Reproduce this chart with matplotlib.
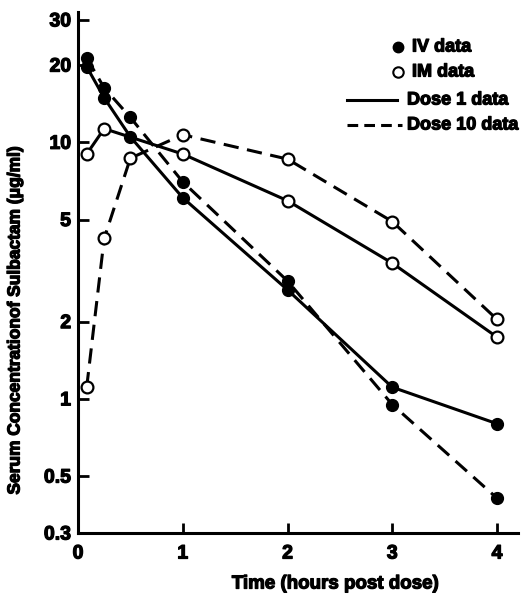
import matplotlib
matplotlib.use("Agg")
import matplotlib.pyplot as plt
import matplotlib.patheffects as pe
from matplotlib.lines import Line2D
from matplotlib.ticker import FixedLocator, FixedFormatter, NullLocator

plt.rcParams["font.family"] = ["Liberation Sans", "DejaVu Sans"]
plt.rcParams["font.weight"] = "bold"

# time points (hours post dose)
times = [0.083, 0.25, 0.5, 1, 2, 3, 4]
times_im1 = [0.083, 0.25, 1, 2, 3, 4]

# serum concentration (ug/ml)
iv_dose1 = [19.7, 14.9, 10.5, 6.08, 2.66, 1.11, 0.80]
iv_dose10 = [21.3, 16.3, 12.5, 7.01, 2.88, 0.95, 0.41]
im_dose1 = [9.0, 11.3, 9.0, 5.92, 3.38, 1.74]
im_dose10 = [1.11, 4.22, 8.67, 10.7, 8.6, 4.91, 2.04]

y_ticks = [0.3, 0.5, 1, 2, 5, 10, 20, 30]
y_tick_labels = ["0.3", "0.5", "1", "2", "5", "10", "20", "30"]
x_ticks = [0, 1, 2, 3, 4]

W, H = 529, 594
fig = plt.figure(figsize=(W / 100, H / 100), dpi=100)
ax = fig.add_axes([78 / W, 1 - 533 / H, 440 / W, 521 / H])

lw = 2.2
dash = (0, (5, 2.8))
ms = 8.5
heavy = [pe.withStroke(linewidth=0.9, foreground="black")]

ax.plot(times, iv_dose1, color="black", lw=lw, marker="o", ms=ms,
        mfc="black", mec="black", zorder=4)
ax.plot(times, iv_dose10, color="black", lw=lw, ls=dash, marker="o", ms=ms,
        mfc="black", mec="black", zorder=4)
ax.plot(times_im1, im_dose1, color="black", lw=lw, marker="o", ms=ms,
        mfc="white", mec="black", mew=1.6, zorder=3)
ax.plot(times, im_dose10, color="black", lw=lw, ls=dash, marker="o", ms=ms,
        mfc="white", mec="black", mew=1.6, zorder=3)

ax.set_yscale("log")
ax.set_ylim(0.3, 32.2)
ax.set_xlim(0, 4.2)

ax.yaxis.set_major_locator(FixedLocator(y_ticks))
ax.yaxis.set_major_formatter(FixedFormatter(y_tick_labels))
ax.yaxis.set_minor_locator(NullLocator())
ax.set_xticks(x_ticks)

ax.spines["top"].set_visible(False)
ax.spines["right"].set_visible(False)
ax.spines["left"].set_linewidth(2.2)
ax.spines["bottom"].set_linewidth(2.2)
ax.tick_params(axis="y", direction="in", length=8, width=2, pad=5, labelsize=14)
ax.tick_params(axis="x", direction="in", length=7, width=2, pad=9, labelsize=14)
for lab in ax.get_xticklabels() + ax.get_yticklabels():
    lab.set_fontweight("bold")
    lab.set_path_effects(heavy)

fig.text(15 / W, 1 - 320 / H, "Serum Concentrationof Sulbactam (\u03bcg/ml)",
         rotation=90, ha="center", va="center", fontsize=12.5,
         fontweight="bold", path_effects=heavy)
fig.text(335 / W, 1 - 584 / H, "Time (hours post dose)",
         ha="center", va="center", fontsize=13.5, fontweight="bold",
         path_effects=heavy)

# legend drawn by hand to match the original layout
legend_rows = [
    (47, "IV data", "filled"),
    (72, "IM data", "open"),
    (100, "Dose 1 data", "-"),
    (125, "Dose 10 data", "--"),
]
for y, text, kind in legend_rows:
    fy = 1 - y / H
    tx = 407 / W
    if kind == "filled":
        fig.add_artist(Line2D([398 / W], [fy], marker="o", ms=7.5, mfc="black",
                              mec="black", ls="none"))
        tx = 412 / W
    elif kind == "open":
        fig.add_artist(Line2D([398 / W], [fy], marker="o", ms=7.5, mfc="white",
                              mec="black", mew=1.5, ls="none"))
        tx = 412 / W
    elif kind == "-":
        fig.add_artist(Line2D([347 / W, 397 / W], [fy, fy], color="black", lw=lw))
    else:
        fig.add_artist(Line2D([347 / W, 402 / W], [fy, fy], color="black",
                              lw=lw, ls=(0, (3.5, 2))))
    fig.text(tx, fy, text, ha="left", va="center", fontsize=13,
             fontweight="bold", path_effects=heavy)

fig.savefig("out.png", dpi=100)
